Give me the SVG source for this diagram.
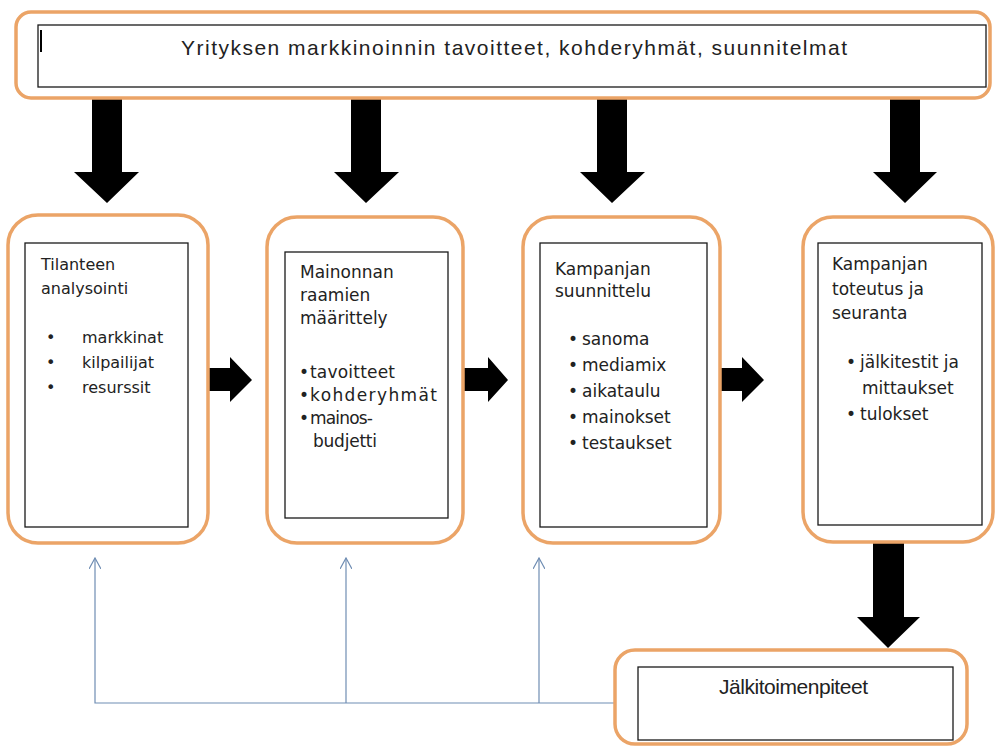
<svg xmlns="http://www.w3.org/2000/svg" width="995" height="747" viewBox="0 0 995 747">
<style>
.outer{fill:#fff;stroke:#eba467;stroke-width:3.5}
.inner{fill:#fff;stroke:#1a1a1a;stroke-width:1.3}
.t{font-family:"DejaVu Sans",sans-serif;font-size:17px;fill:#222}
.t16{font-family:"DejaVu Sans",sans-serif;font-size:16px;fill:#222}
.big{font-family:"Liberation Sans",Arial,sans-serif;font-size:21px;fill:#222}
.arr{fill:#000}
.fb{fill:none;stroke:#6f8db3;stroke-width:1.2}
</style>
<defs>
<marker id="open" viewBox="0 0 12 12" refX="11" refY="6" markerWidth="12" markerHeight="12" markerUnits="userSpaceOnUse" orient="auto">
<path d="M0,0 L11,6 L0,12" fill="none" stroke="#6f8db3" stroke-width="1.2"/>
</marker>
</defs>
<g id="connectors">
<polygon class="arr" points="92,97 122,97 122,172 139,172 107,203 74,172 92,172"/>
<polygon class="arr" points="351,97 381,97 381,172 399,172 366,203 334,172 351,172"/>
<polygon class="arr" points="597,97 627,97 627,172 645,172 612,203 580,172 597,172"/>
<polygon class="arr" points="890,97 920,97 920,172 937,172 905,203 873,172 890,172"/>
<polygon class="arr" points="873,543 904,543 904,617 920,617 888,648 857,617 873,617"/>
<polygon class="arr" points="208,368 230,368 230,357 252,380 230,402 230,391 208,391"/>
<polygon class="arr" points="463,368 488,368 488,357 508,380 488,402 488,391 463,391"/>
<polygon class="arr" points="720,368 742,368 742,357 764,380 742,402 742,391 720,391"/>
<polyline class="fb" points="615,703 95,703 95,558" marker-end="url(#open)"/>
<line class="fb" x1="346" y1="703" x2="346" y2="558" marker-end="url(#open)"/>
<line class="fb" x1="539" y1="703" x2="539" y2="558" marker-end="url(#open)"/>
</g>
<g id="top">
<rect class="outer" x="16" y="12" width="974" height="86" rx="15"/>
<rect class="inner" x="38" y="25" width="948" height="62"/>
<line x1="41" y1="30" x2="41" y2="52" stroke="#000" stroke-width="2"/>
<text class="big" x="181" y="55" textLength="666" lengthAdjust="spacing">Yrityksen markkinoinnin tavoitteet, kohderyhmät, suunnitelmat</text>
</g>
<g id="box1">
<rect class="outer" x="8" y="215" width="200" height="328" rx="30"/>
<rect class="inner" x="25" y="243" width="163" height="284"/>
<text class="t16" x="41" y="270">Tilanteen</text>
<text class="t16" x="41" y="294">analysointi</text>
<text class="t16" x="46" y="343">•</text>
<text class="t16" x="82" y="343">markkinat</text>
<text class="t16" x="46" y="368">•</text>
<text class="t16" x="82" y="368">kilpailijat</text>
<text class="t16" x="46" y="393">•</text>
<text class="t16" x="82" y="393">resurssit</text>
</g>
<g id="box2">
<rect class="outer" x="267" y="217" width="196" height="326" rx="30"/>
<rect class="inner" x="285" y="252" width="163" height="266"/>
<text class="t" x="300" y="278">Mainonnan</text>
<text class="t" x="300" y="301">raamien</text>
<text class="t" x="300" y="324">määrittely</text>
<text class="t" x="299" y="378">•</text>
<text class="t" x="310" y="378" textLength="85" lengthAdjust="spacing">tavoitteet</text>
<text class="t" x="299" y="401">•</text>
<text class="t" x="310" y="401" textLength="127" lengthAdjust="spacing">kohderyhmät</text>
<text class="t" x="299" y="424">•</text>
<text class="t" x="310" y="424" textLength="63" lengthAdjust="spacing">mainos-</text>
<text class="t" x="313" y="447" textLength="64" lengthAdjust="spacing">budjetti</text>
</g>
<g id="box3">
<rect class="outer" x="523" y="217" width="197" height="326" rx="30"/>
<rect class="inner" x="540" y="243" width="167" height="284"/>
<text class="t" x="555" y="275">Kampanjan</text>
<text class="t" x="555" y="297">suunnittelu</text>
<text class="t" x="568" y="345">•</text>
<text class="t" x="582" y="345">sanoma</text>
<text class="t" x="568" y="371">•</text>
<text class="t" x="582" y="371">mediamix</text>
<text class="t" x="568" y="397">•</text>
<text class="t" x="582" y="397">aikataulu</text>
<text class="t" x="568" y="423">•</text>
<text class="t" x="582" y="423">mainokset</text>
<text class="t" x="568" y="449">•</text>
<text class="t" x="582" y="449">testaukset</text>
</g>
<g id="box4">
<rect class="outer" x="803" y="217" width="190" height="325" rx="30"/>
<rect class="inner" x="818" y="243" width="164" height="282"/>
<text class="t" x="832" y="270">Kampanjan</text>
<text class="t" x="832" y="295">toteutus ja</text>
<text class="t" x="832" y="319">seuranta</text>
<text class="t" x="846" y="368">•</text>
<text class="t" x="860" y="368">jälkitestit ja</text>
<text class="t" x="862" y="394">mittaukset</text>
<text class="t" x="846" y="420">•</text>
<text class="t" x="860" y="420">tulokset</text>
</g>
<g id="bottom">
<rect class="outer" x="615" y="650" width="352" height="94" rx="20"/>
<rect class="inner" x="638" y="667" width="315" height="73"/>
<text class="big" x="719" y="694" font-size="18" textLength="149" lengthAdjust="spacing">Jälkitoimenpiteet</text>
</g>
</svg>
